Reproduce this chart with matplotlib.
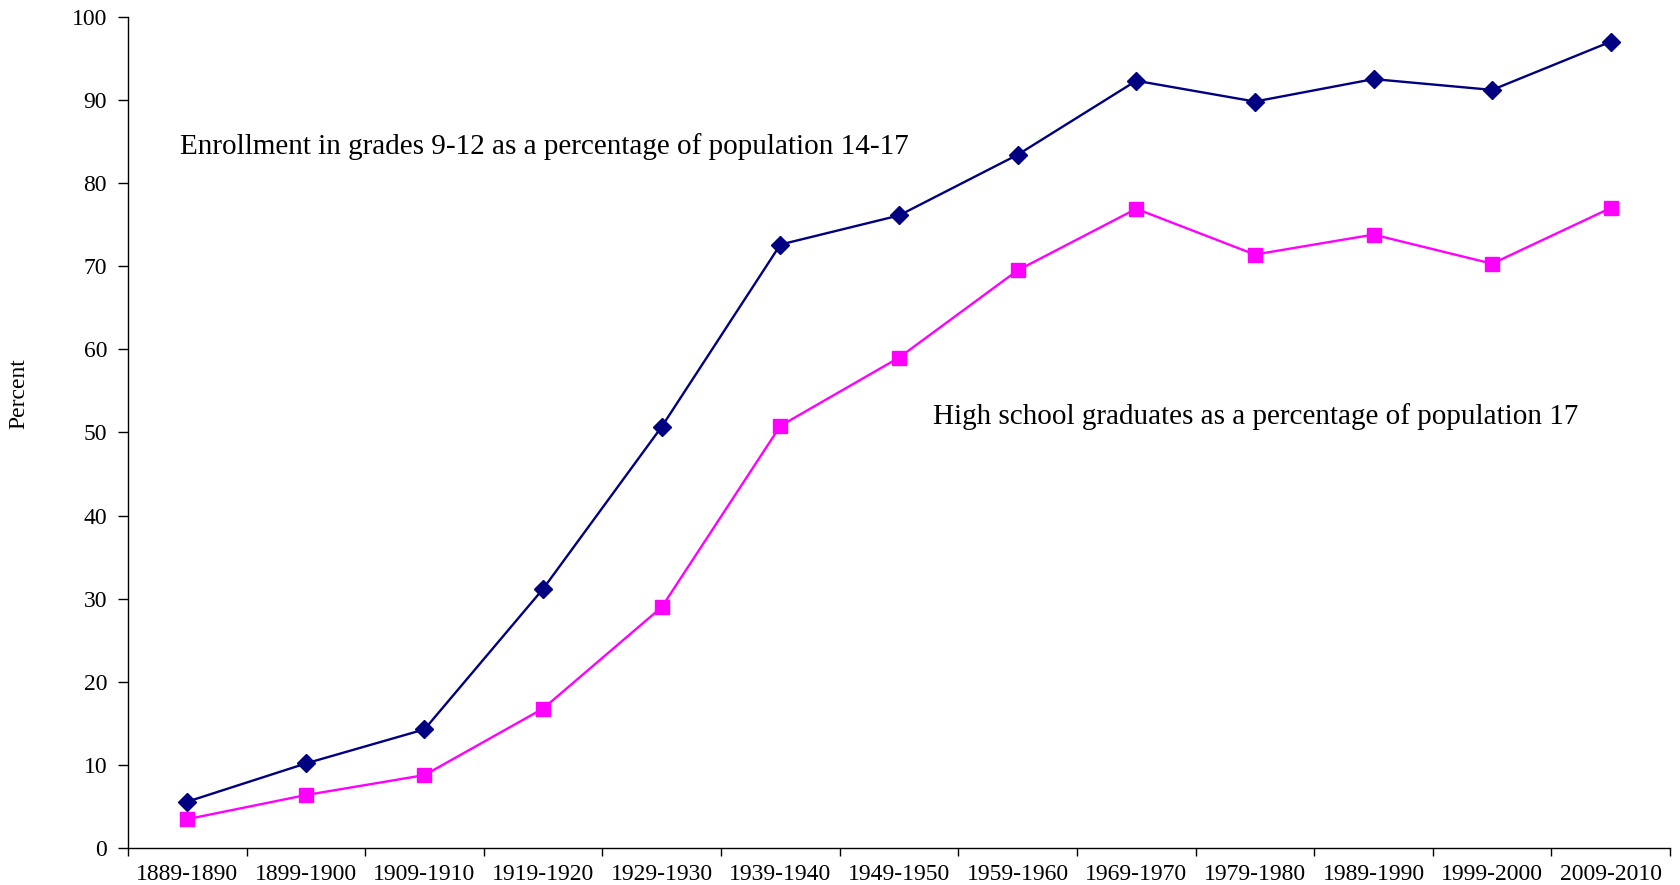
import matplotlib
matplotlib.use("Agg")
import matplotlib.pyplot as plt
import numpy as np

plt.rcParams['font.family'] = ['Liberation Serif', 'DejaVu Serif']

periods = ["1889-1890", "1899-1900", "1909-1910", "1919-1920", "1929-1930",
           "1939-1940", "1949-1950", "1959-1960", "1969-1970", "1979-1980",
           "1989-1990", "1999-2000", "2009-2010"]
enrollment = [5.6, 10.2, 14.3, 31.2, 50.7, 72.6, 76.1, 83.4, 92.3, 89.8, 92.5, 91.2, 97.0]
graduates = [3.5, 6.4, 8.8, 16.8, 29.0, 50.8, 59.0, 69.5, 76.9, 71.4, 73.8, 70.3, 77.0]
y_ticks = list(range(0, 101, 10))

fig = plt.figure(figsize=(16.81, 8.85), dpi=100)
ax = fig.add_axes([0.0761, 0.0415, 0.9174, 0.9396])

x = np.arange(len(periods))
ax.plot(x, enrollment, color="#000080", lw=1.7, marker="D", ms=9.5,
        markerfacecolor="#000080", markeredgecolor="#000080")
ax.plot(x, graduates, color="#FF00FF", lw=1.7, marker="s", ms=10,
        markerfacecolor="#FF00FF", markeredgecolor="#FF00FF")

ax.set_xlim(-0.5, len(periods) - 0.5)
ax.set_ylim(0, 100)
ax.set_yticks(y_ticks)
ax.set_yticklabels([str(v) for v in y_ticks], fontsize=17)

# category boundaries carry the tick marks, labels sit at the centres
ax.set_xticks(np.arange(-0.5, len(periods), 1.0))
ax.set_xticklabels([])
ax.set_xticks(x, minor=True)
ax.set_xticklabels(periods, minor=True, fontsize=17)
ax.tick_params(axis="x", which="minor", length=0, pad=11)
ax.tick_params(axis="x", which="major", length=6, width=1, direction="out")
ax.tick_params(axis="y", length=7, width=1, direction="out", pad=8)

for s in ("top", "right"):
    ax.spines[s].set_visible(False)
for s in ("left", "bottom"):
    ax.spines[s].set_linewidth(1)

ax.set_ylabel("Percent", fontsize=17)
ax.yaxis.set_label_coords(-0.064, 0.547)

ax.text(-0.06, 84.4, "Enrollment in grades 9-12 as a percentage of population 14-17",
        fontsize=21, va="center", ha="left")
ax.text(6.29, 51.9, "High school graduates as a percentage of population 17",
        fontsize=21, va="center", ha="left")

fig.savefig("out.png", dpi=100)
